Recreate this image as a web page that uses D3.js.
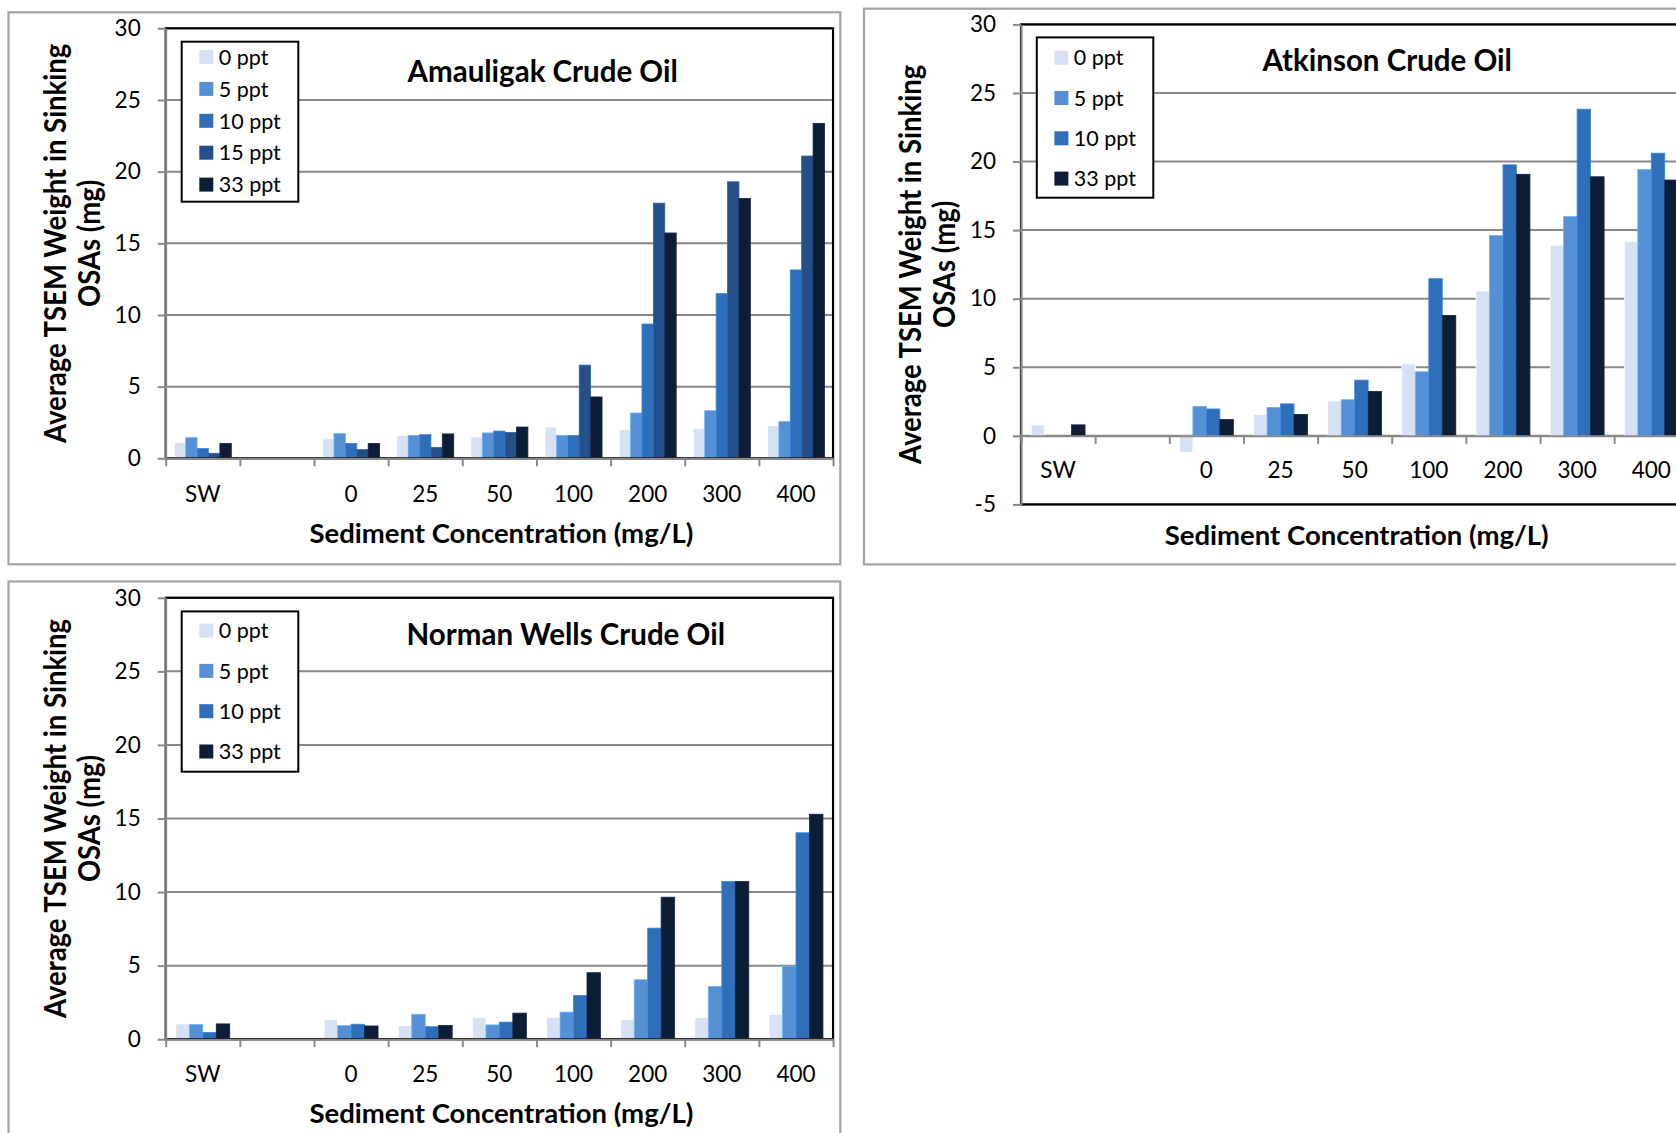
<!DOCTYPE html>
<html><head><meta charset="utf-8">
<script src="https://cdn.jsdelivr.net/npm/d3@7"></script>
<style>
body{margin:0;background:#fff}
svg{display:block}
text{font-family:Lato,'Open Sans',sans-serif;fill:#000}
</style>
</head><body>
<svg id="c" width="1676" height="1133"></svg>
<script>
// ---------- DATA ----------
const categories = ["SW", "", "0", "25", "50", "100", "200", "300", "400"];
const seriesFive = ["0 ppt", "5 ppt", "10 ppt", "15 ppt", "33 ppt"];
const seriesFour = ["0 ppt", "5 ppt", "10 ppt", "33 ppt"];
const yTicksMain = [0, 5, 10, 15, 20, 25, 30];
const yTicksAtkinson = [-5, 0, 5, 10, 15, 20, 25, 30];

// Amauligak Crude Oil
const amauligak0 = [1.11, null, 1.37, 1.60, 1.49, 2.18, 2.00, 2.08, 2.28];
const amauligak5 = [1.44, null, 1.72, 1.60, 1.77, 1.60, 3.16, 3.32, 2.56];
const amauligak10 = [0.68, null, 1.04, 1.65, 1.90, 1.60, 9.37, 11.49, 13.14];
const amauligak15 = [0.35, null, 0.61, 0.76, 1.80, 6.50, 17.80, 19.29, 21.09];
const amauligak33 = [1.04, null, 1.04, 1.70, 2.18, 4.28, 15.72, 18.13, 23.37];

// Atkinson Crude Oil
const atkinson0 = [0.80, null, -1.22, 1.56, 2.55, 5.25, 10.56, 13.90, 14.16];
const atkinson5 = [0, null, 2.15, 2.07, 2.63, 4.67, 14.60, 15.99, 19.42];
const atkinson10 = [0, null, 1.96, 2.33, 4.06, 11.46, 19.76, 23.82, 20.61];
const atkinson33 = [0.80, null, 1.19, 1.56, 3.24, 8.78, 19.07, 18.89, 18.65];

// Norman Wells Crude Oil
const norman0 = [1.04, null, 1.35, 0.92, 1.48, 1.48, 1.35, 1.48, 1.69];
const norman5 = [0.99, null, 0.92, 1.69, 0.97, 1.84, 4.04, 3.58, 4.96];
const norman10 = [0.46, null, 1.02, 0.85, 1.16, 2.98, 7.55, 10.72, 14.03];
const norman33 = [1.04, null, 0.90, 0.94, 1.77, 4.52, 9.65, 10.72, 15.29];

const yTitleLines = ["Average TSEM Weight in Sinking", "OSAs (mg)"];
const xTitle = "Sediment Concentration (mg/L)";

// ---------- STYLE ----------
const colors = {"0 ppt": "#D6E2F3", "5 ppt": "#5590D4", "10 ppt": "#2F6EB8", "15 ppt": "#244F89", "33 ppt": "#0E1D36"};
const gridColor = "#898989";
const frameColor = "#a3a3a3";

const charts = [
  {
    title: "Amauligak Crude Oil", series: seriesFive,
    values: [amauligak0, amauligak5, amauligak10, amauligak15, amauligak33],
    domain: [0, 30], ticks: yTicksMain,
    frame: {x: 8.5, y: 12.3, w: 831.8, h: 552},
    x0: 165.7, step: 74.15, yTop: 28.3, yBottom: 458.3,
    titlePos: [407.5, 81.7], yTitleX: [66, 100],
    labelY: 501.7, xTitleY: 543.3,
    legend: {x: 181.7, y: 41.7, w: 116.6, h: 160, first: 57, gap: 31.9}
  },
  {
    title: "Atkinson Crude Oil", series: seriesFour,
    values: [atkinson0, atkinson5, atkinson10, atkinson33],
    domain: [-5, 30], ticks: yTicksAtkinson,
    frame: {x: 864, y: 8.7, w: 900, h: 555.7},
    x0: 1021, step: 74.15, yTop: 24.4, yBottom: 504.4,
    titlePos: [1262.5, 71], yTitleX: [921.5, 955.5],
    labelY: 478, xTitleY: 545,
    legend: {x: 1036.8, y: 37.4, w: 116.5, h: 160.3, first: 57.7, gap: 40.3}
  },
  {
    title: "Norman Wells Crude Oil", series: seriesFour,
    values: [norman0, norman5, norman10, norman33],
    domain: [0, 30], ticks: yTicksMain,
    frame: {x: 8.5, y: 581.5, w: 831.8, h: 600},
    x0: 165.7, step: 74.15, yTop: 597.8, yBottom: 1039.2,
    titlePos: [406.5, 645], yTitleX: [66, 100],
    labelY: 1082, xTitleY: 1122.5,
    legend: {x: 181.7, y: 611.4, w: 116.6, h: 160.3, first: 630.6, gap: 40.3}
  }
];

const svg = d3.select("#c");
svg.append("rect").attr("width", 1676).attr("height", 1133).attr("fill", "#fff");

charts.forEach(cfg => {
  const g = svg.append("g");
  const n = categories.length;
  const x1 = cfg.x0 + cfg.step * n;

  // frame
  g.append("rect").attr("x", cfg.frame.x).attr("y", cfg.frame.y)
    .attr("width", cfg.frame.w).attr("height", cfg.frame.h)
    .attr("fill", "#fff").attr("stroke", frameColor).attr("stroke-width", 2.2);

  const y = d3.scaleLinear().domain(cfg.domain).range([cfg.yBottom, cfg.yTop]);
  const x = d3.scaleBand().domain(categories).range([cfg.x0, x1]).paddingInner(0).paddingOuter(0);
  const xs = d3.scaleBand().domain(cfg.series).range([0, x.bandwidth()]).paddingInner(0).paddingOuter(0.75);
  const xb = d3.scaleLinear().domain([0, n]).range([cfg.x0, x1]);

  // gridlines
  g.append("g").selectAll("line").data(cfg.ticks).join("line")
    .attr("x1", cfg.x0).attr("x2", x1)
    .attr("y1", d => y(d)).attr("y2", d => y(d))
    .attr("stroke", gridColor).attr("stroke-width", 2);

  // bars
  cfg.series.forEach((s, si) => {
    const vals = cfg.values[si];
    g.append("g").selectAll("rect")
      .data(categories.map((c, i) => ({c, v: vals[i]})).filter(d => d.v !== null && d.v !== 0))
      .join("rect")
      .attr("x", d => x(d.c) + xs(s))
      .attr("width", xs.bandwidth())
      .attr("y", d => Math.min(y(d.v), y(0)))
      .attr("height", d => Math.abs(y(d.v) - y(0)))
      .attr("fill", colors[s])
      .attr("stroke", d3.color(colors[s]).brighter(0.6))
      .attr("stroke-width", 0.8);
  });

  // plot border (black)
  g.append("rect").attr("x", cfg.x0).attr("y", cfg.yTop)
    .attr("width", x1 - cfg.x0).attr("height", cfg.yBottom - cfg.yTop)
    .attr("fill", "none").attr("stroke", "#000").attr("stroke-width", 2.2);

  // y axis
  const yAxis = g.append("g").attr("transform", `translate(${cfg.x0},0)`)
    .call(d3.axisLeft(y).tickValues(cfg.ticks).tickSize(8).tickSizeOuter(0).tickPadding(17).tickFormat(d => String(d)));
  yAxis.selectAll("path,line").attr("stroke", gridColor).attr("stroke-width", 2);
  yAxis.selectAll("text").attr("font-size", 22.5).attr("font-family", "Lato,'Open Sans',sans-serif").attr("fill", "#000");

  // x axis at zero
  const xAxis = g.append("g").attr("transform", `translate(0,${y(0)})`)
    .call(d3.axisBottom(xb).tickValues(d3.range(0, n + 1)).tickSize(8).tickSizeOuter(0).tickFormat(""));
  xAxis.selectAll("path,line").attr("stroke", gridColor).attr("stroke-width", 2);

  // category labels
  g.append("g").selectAll("text").data(categories).join("text")
    .attr("x", d => x(d) + x.bandwidth() / 2).attr("y", cfg.labelY)
    .attr("text-anchor", "middle").attr("font-size", 22.5).text(d => d);

  // legend
  const L = cfg.legend;
  g.append("rect").attr("x", L.x).attr("y", L.y).attr("width", L.w).attr("height", L.h)
    .attr("fill", "#fff").attr("stroke", "#000").attr("stroke-width", 2);
  const li = g.append("g").selectAll("g").data(cfg.series).join("g")
    .attr("transform", (d, i) => `translate(${L.x},${L.first + i * L.gap})`);
  li.append("rect").attr("x", 17.6).attr("y", -7).attr("width", 14).attr("height", 14)
    .attr("fill", d => colors[d]);
  li.append("text").attr("x", 37).attr("y", 7.7).attr("font-size", 21.5).text(d => d);

  // title
  g.append("text").attr("x", cfg.titlePos[0]).attr("y", cfg.titlePos[1])
    .attr("font-size", 29.5).attr("font-weight", 700).text(cfg.title);

  // x title
  g.append("text").attr("x", (cfg.x0 + x1) / 2 + 2).attr("y", cfg.xTitleY)
    .attr("text-anchor", "middle").attr("font-size", 27.5).attr("font-weight", 700).text(xTitle);

  // y title (two lines, rotated, slightly taller glyphs as in the reference)
  const cy = (cfg.yTop + cfg.yBottom) / 2;
  const capScale = 1.1;
  const yt = g.append("g").attr("transform", `translate(0,${cy}) rotate(-90) scale(1,${capScale})`);
  yTitleLines.forEach((t, i) => {
    yt.append("text").attr("x", 0).attr("y", cfg.yTitleX[i] / capScale)
      .attr("text-anchor", "middle").attr("font-size", 27.5).attr("font-weight", 700).text(t);
  });
});
</script>
</body></html>
